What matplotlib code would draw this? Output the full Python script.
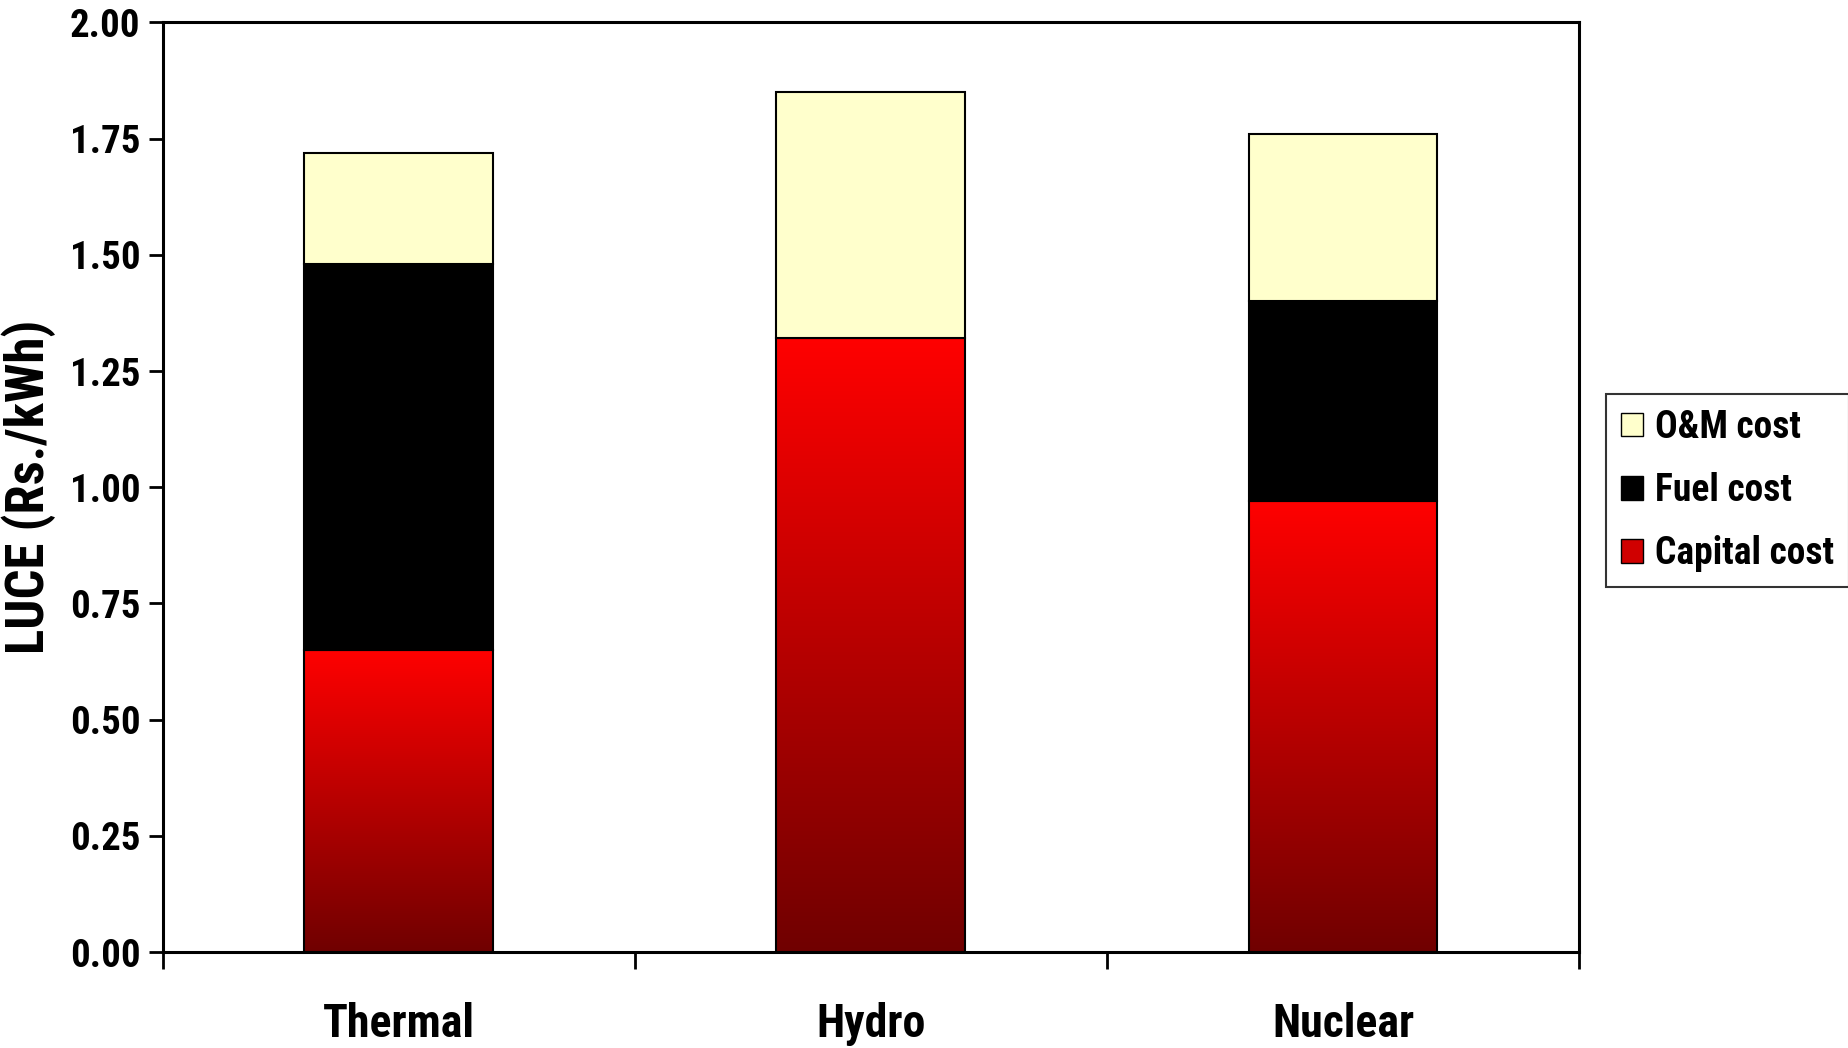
import numpy as np
import matplotlib
matplotlib.use("Agg")
import matplotlib.pyplot as plt
from matplotlib import font_manager
from matplotlib.colors import LinearSegmentedColormap
from matplotlib.patches import Patch

categories = ["Thermal", "Hydro", "Nuclear"]
capital_cost = [0.65, 1.32, 0.97]
fuel_cost = [0.83, 0.00, 0.43]
om_cost = [0.24, 0.53, 0.36]
yticks = [0.00, 0.25, 0.50, 0.75, 1.00, 1.25, 1.50, 1.75, 2.00]

# look for a condensed / narrow sans font
names = {f.name for f in font_manager.fontManager.ttflist}
narrow = None
for cand in ["Liberation Sans Narrow", "Arial Narrow", "Nimbus Sans Narrow",
             "DejaVu Sans Condensed", "Roboto Condensed", "Open Sans Condensed"]:
    if cand in names:
        narrow = cand
        break
stretch = 'normal'
if narrow is None:
    for f in font_manager.fontManager.ttflist:
        if f.name == "DejaVu Sans" and f.stretch in ('condensed', 'semi-condensed'):
            narrow = "DejaVu Sans"
            stretch = 'condensed'
            break
if narrow is not None:
    fam = [narrow, 'Liberation Sans', 'DejaVu Sans']
    k = 1.0
else:
    fam = ['Liberation Sans', 'DejaVu Sans']
    k = 0.84

plt.rcParams['font.family'] = fam
plt.rcParams['font.weight'] = 'bold'
plt.rcParams['font.stretch'] = stretch

fig = plt.figure(figsize=(18.48, 10.48), dpi=100)
ax = fig.add_axes([0.088, 0.0916, 0.7665, 0.887])

x = np.arange(len(categories))
w = 0.4
cap = np.array(capital_cost)
fuel = np.array(fuel_cost)
om = np.array(om_cost)

cmap = LinearSegmentedColormap.from_list("redgrad", ["#700000", "#FF0000"])
grad = np.linspace(0, 1, 256).reshape(-1, 1)

cap_bars = ax.bar(x, cap, w, color="#FF0000", edgecolor="black", linewidth=1.5, zorder=2)
for b in cap_bars:
    x0, y0 = b.get_x(), b.get_y()
    bw, bh = b.get_width(), b.get_height()
    im = ax.imshow(grad, cmap=cmap, aspect='auto', origin='lower',
                   extent=(x0, x0 + bw, y0, y0 + bh), zorder=2)
    im.set_clip_path(b)
    b.set_facecolor('none')
    b.set_zorder(3)

for i in range(len(categories)):
    if fuel[i] > 0:
        ax.bar(x[i], fuel[i], w, bottom=cap[i], color="black", edgecolor="black",
               linewidth=1.5, zorder=3)
ax.bar(x, om, w, bottom=cap + fuel, color="#FFFFCC", edgecolor="black", linewidth=1.5, zorder=3)

ax.set_xlim(-0.5, 2.5)
ax.set_ylim(0, 2.0)
ax.set_yticks(yticks)
ax.set_yticklabels([f"{v:.2f}" for v in yticks], fontsize=28 * k, fontweight='bold')
ax.set_xticks([-0.5, 0.5, 1.5, 2.5])
ax.set_xticklabels([])
ax.set_xticks(x, minor=True)
ax.set_xticklabels(categories, minor=True, fontsize=33 * k, fontweight='bold')
ax.tick_params(axis='x', which='minor', length=0, pad=36)
ax.tick_params(axis='x', which='major', length=12, width=2, direction='out')
ax.tick_params(axis='y', length=10, width=2, direction='out', pad=6)
for s in ax.spines.values():
    s.set_linewidth(2.2)

ax.set_ylabel("LUCE (Rs./kWh)", fontsize=38 * k, fontweight='bold', labelpad=10)

handles = [Patch(facecolor="#FFFFCC", edgecolor="black", label="O&M cost"),
           Patch(facecolor="black", edgecolor="black", label="Fuel cost"),
           Patch(facecolor="#D00000", edgecolor="black", label="Capital cost")]
leg = fig.legend(handles=handles, loc='center left', bbox_to_anchor=(0.869, 0.532),
                 borderaxespad=0, frameon=True, fancybox=False, edgecolor='black',
                 handlelength=0.6, handleheight=0.6, handletextpad=0.3,
                 labelspacing=0.7, borderpad=0.4, prop={'weight': 'bold', 'size': 27 * k})
leg.get_frame().set_linewidth(1.5)

fig.savefig("out.png", dpi=100)
